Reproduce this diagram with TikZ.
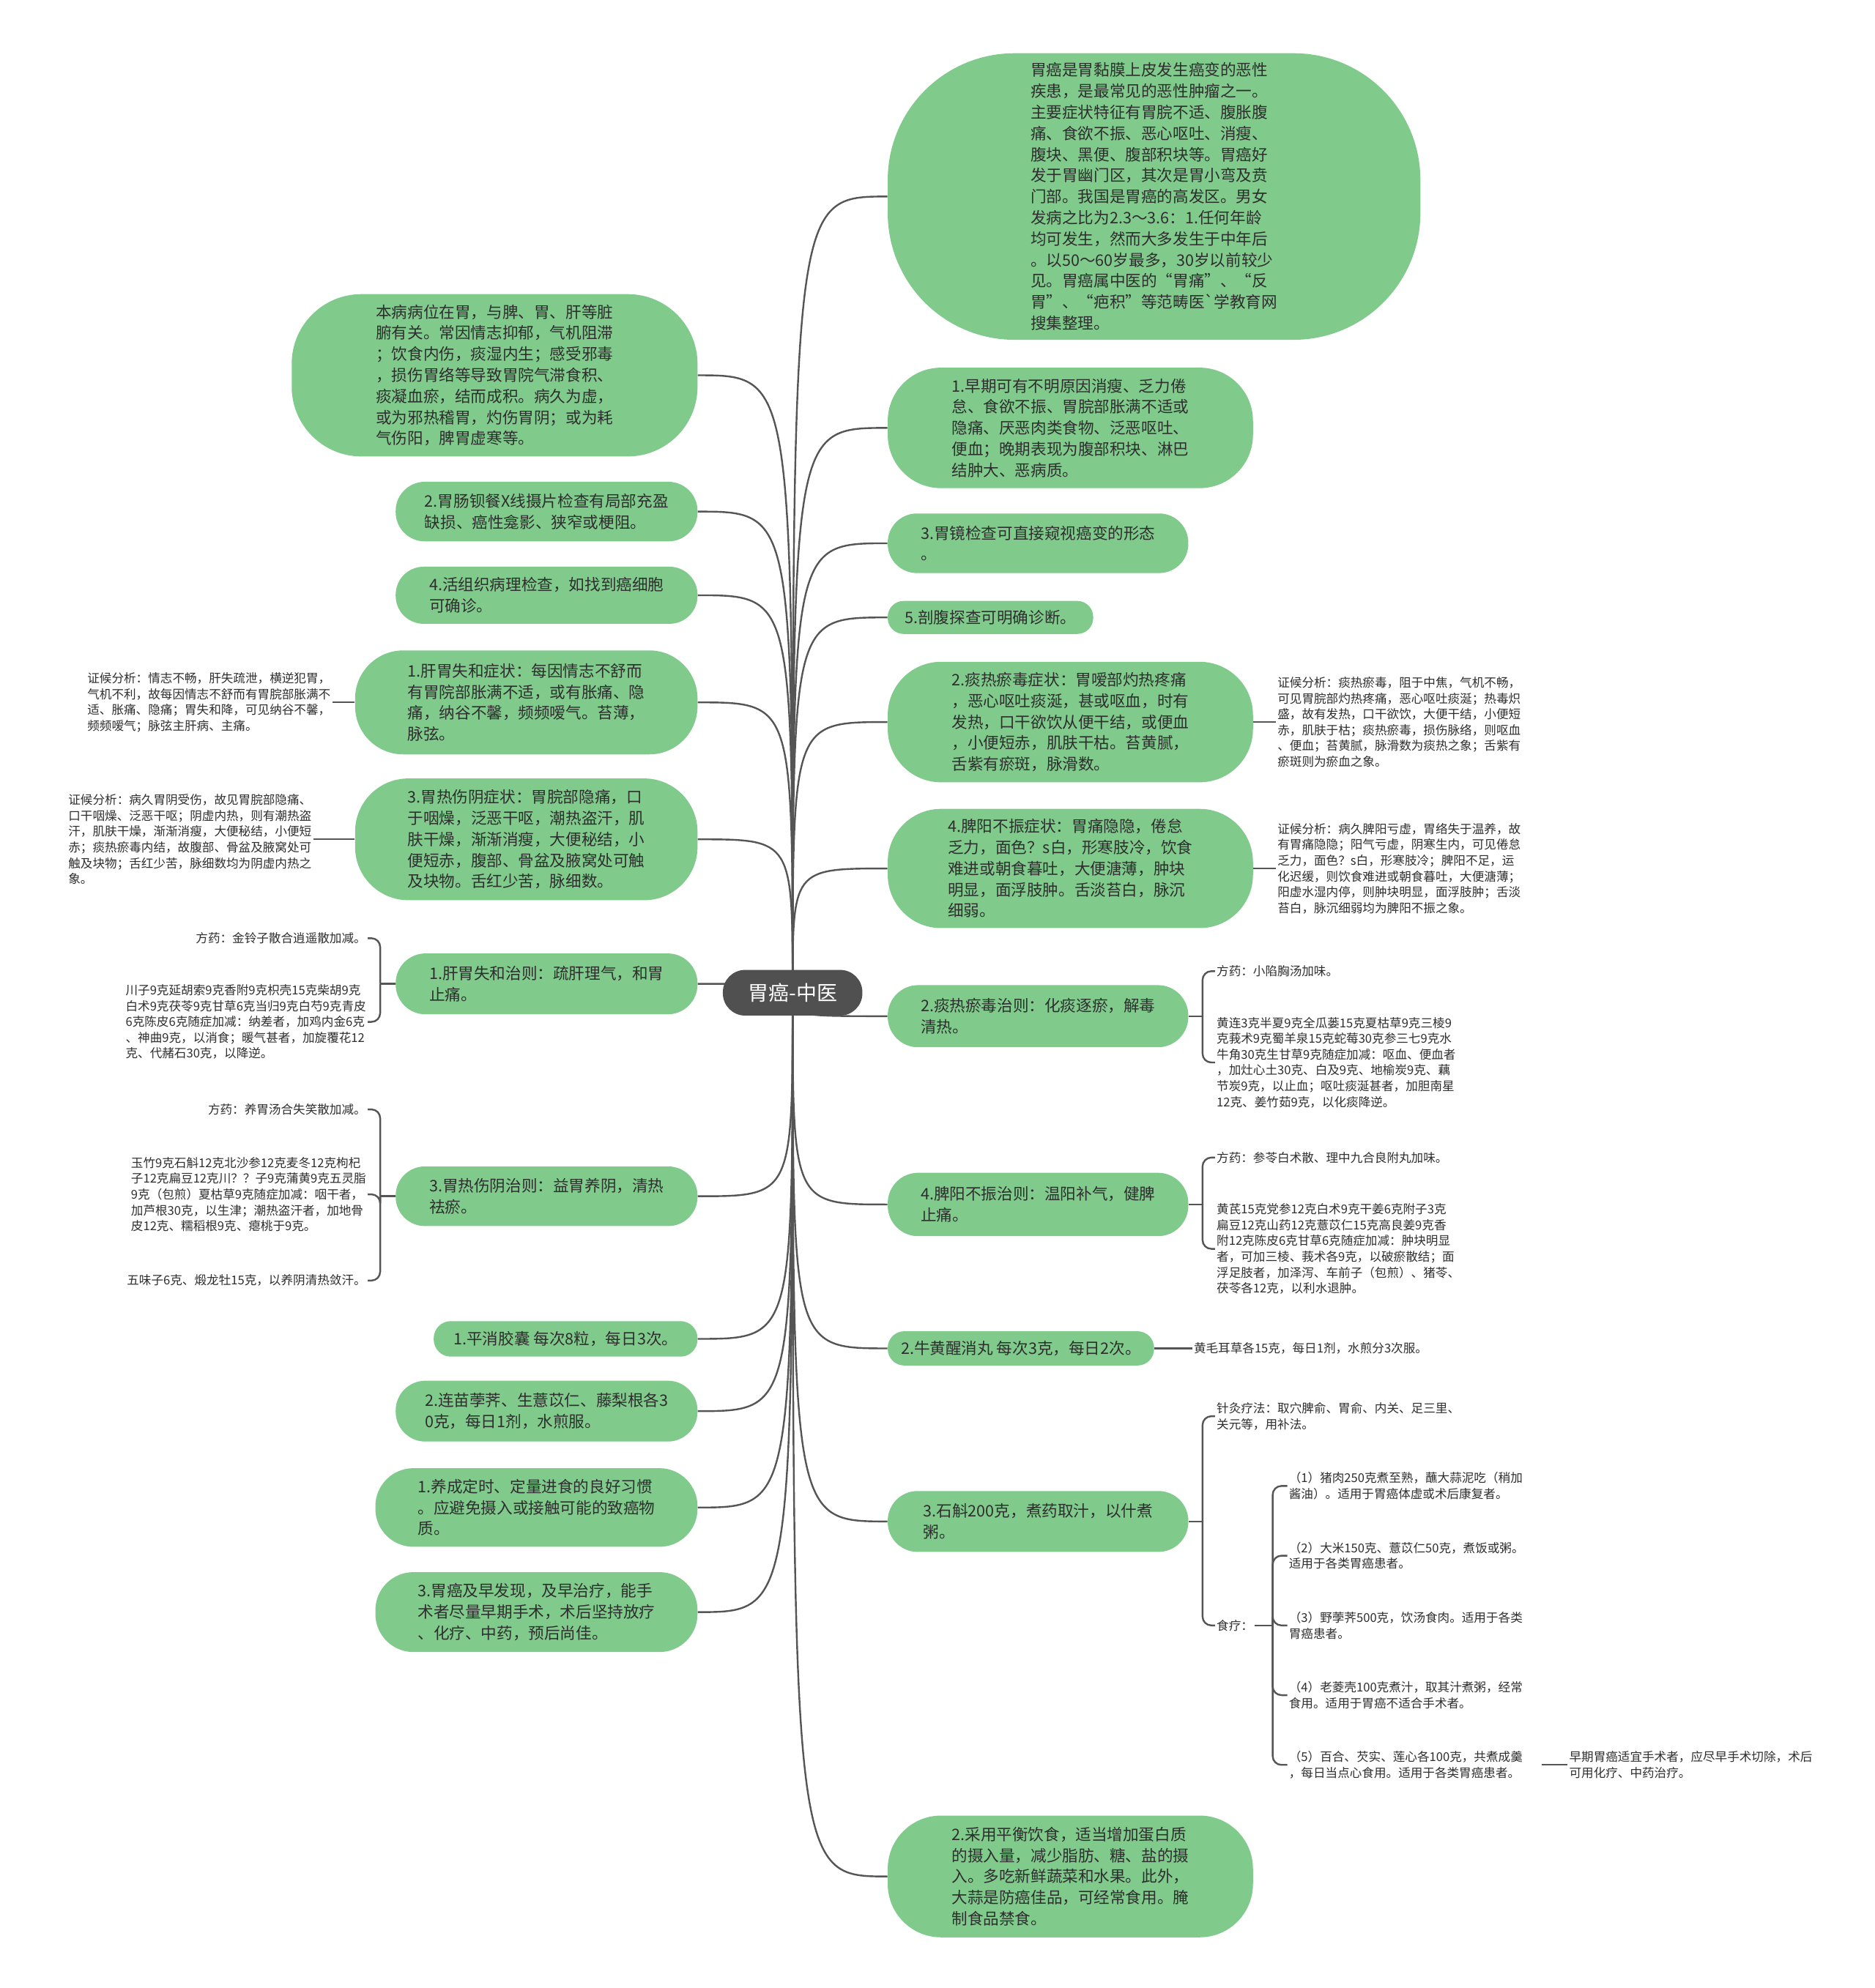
\documentclass[tikz,border=0pt]{standalone}
\usepackage{fontspec}
\setmainfont{Noto Sans CJK SC}
\usetikzlibrary{calc}
\definecolor{gfill}{HTML}{80CA8C}
\definecolor{linec}{HTML}{555555}
\definecolor{txtc}{HTML}{2E2E2E}
\definecolor{ctrc}{HTML}{505050}
\newcommand{\mfs}{\fontsize{10.8pt}{14.4pt}\selectfont}
\newcommand{\sfs}{\fontsize{8.3pt}{10.8pt}\selectfont}
\pgfdeclarelayer{bg}
\pgfsetlayers{bg,main}
\begin{document}
\begin{tikzpicture}[x=0.866pt,y=-0.866pt,
  conn/.style={draw=linec, line width=1.2pt},
  gn/.style n args={3}{fill=gfill, text=txtc, font=\mfs, align=left, inner sep=0pt,
     minimum width=#1*0.866pt, minimum height=#2*0.866pt, rounded corners=#3*0.866pt},
  ctr/.style={fill=ctrc, text=white, font=\fontsize{14pt}{16pt}\selectfont, inner sep=0pt,
     minimum width=110*0.866pt, minimum height=36*0.866pt, rounded corners=17.5*0.866pt},
  nt/.style={text=txtc, font=\sfs, align=left, inner sep=1pt},
  brc/.style={conn, rounded corners=6pt}]
\begin{pgfonlayer}{bg}
\fill[white] (0,0) rectangle (1478,1568);
\end{pgfonlayer}
\useasboundingbox (0,0) rectangle (1478,1568);

\node[ctr] (C) at (625,783) {胃癌-中医};

% right side
\node[gn={420}{226}{100}] (R1) at (910,155) {胃癌是胃黏膜上皮发生癌变的恶性\\疾患，是最常见的恶性肿瘤之一。\\主要症状特征有胃脘不适、腹胀腹\\痛、食欲不振、恶心呕吐、消瘦、\\腹块、黑便、腹部积块等。胃癌好\\发于胃幽门区，其次是胃小弯及贲\\门部。我国是胃癌的高发区。男女\\发病之比为2.3～3.6：1.任何年龄\\均可发生，然而大多发生于中年后\\。以50～60岁最多，30岁以前较少\\见。胃癌属中医的“胃痛”、“反\\胃”、“疤积”等范畴医\textasciigrave 学教育网\\搜集整理。};
\node[gn={288}{95}{42}] (R2) at (844,337.5) {1.早期可有不明原因消瘦、乏力倦\\怠、食欲不振、胃脘部胀满不适或\\隐痛、厌恶肉类食物、泛恶呕吐、\\便血；晚期表现为腹部积块、淋巴\\结肿大、恶病质。};
\node[gn={237}{47}{23}] (R3) at (818.5,428.5) {3.胃镜检查可直接窥视癌变的形态\\。};
\node[gn={162}{26}{12.5}] (R4) at (781,487) {5.剖腹探查可明确诊断。};
\node[gn={288}{95}{42}] (R5) at (844,569.5) {2.痰热瘀毒症状：胃嗳部灼热疼痛\\，恶心呕吐痰涎，甚或呕血，时有\\发热，口干欲饮从便干结，或便血\\，小便短赤，肌肤干枯。苔黄腻，\\舌紫有瘀斑，脉滑数。};
\node[gn={288}{94}{42}] (R6) at (844,685) {4.脾阳不振症状：胃痛隐隐，倦怠\\乏力，面色？s白，形寒肢冷，饮食\\难进或朝食暮吐，大便溏薄，肿块\\明显，面浮肢肿。舌淡苔白，脉沉\\细弱。};
\node[gn={237}{49}{24}] (R7) at (818.5,801.5) {2.痰热瘀毒治则：化痰逐瘀，解毒\\清热。};
\node[gn={237}{50}{24}] (R8) at (818.5,950) {4.脾阳不振治则：温阳补气，健脾\\止痛。};
\node[gn={210}{27}{13}] (R9) at (805,1063.5) {2.牛黄醒消丸 每次3克，每日2次。};
\node[gn={237}{48}{23.5}] (R10) at (818.5,1200) {3.石斛200克，煮药取汁，以什煮\\粥。};
\node[gn={288}{96}{42}] (R11) at (844,1480) {2.采用平衡饮食，适当增加蛋白质\\的摄入量，减少脂肪、糖、盐的摄\\入。多吃新鲜蔬菜和水果。此外，\\大蒜是防癌佳品，可经常食用。腌\\制食品禁食。};

% left side
\node[gn={320}{128}{55}] (L1) at (390,296) {本病病位在胃，与脾、胃、肝等脏\\腑有关。常因情志抑郁，气机阻滞\\；饮食内伤，痰湿内生；感受邪毒\\，损伤胃络等导致胃院气滞食积、\\痰凝血瘀，结而成积。病久为虚，\\或为邪热稽胃，灼伤胃阴；或为耗\\气伤阳，脾胃虚寒等。};
\node[gn={238}{47}{23}] (L2) at (431,403.5) {2.胃肠钡餐X线摄片检查有局部充盈\\缺损、癌性龛影、狭窄或梗阻。};
\node[gn={238}{45}{22}] (L3) at (431,469.5) {4.活组织病理检查，如找到癌细胞\\可确诊。};
\node[gn={270}{82}{38}] (L4) at (415,554) {1.肝胃失和症状：每因情志不舒而\\有胃院部胀满不适，或有胀痛、隐\\痛，纳谷不馨，频频嗳气。苔薄，\\脉弦。};
\node[gn={270}{96}{42}] (L5) at (415,662) {3.胃热伤阴症状：胃脘部隐痛，口\\于咽燥，泛恶干呕，潮热盗汗，肌\\肤干燥，渐渐消瘦，大便秘结，小\\便短赤，腹部、骨盆及腋窝处可触\\及块物。舌红少苦，脉细数。};
\node[gn={238}{48}{23.5}] (L6) at (431,776) {1.肝胃失和治则：疏肝理气，和胃\\止痛。};
\node[gn={238}{47}{23}] (L7) at (431,943.5) {3.胃热伤阴治则：益胃养阴，清热\\祛瘀。};
\node[gn={208}{28}{13.5}] (L8) at (446,1056) {1.平消胶囊 每次8粒，每日3次。};
\node[gn={238}{48}{23.5}] (L9) at (431,1113) {2.连苗荸荠、生薏苡仁、藤梨根各3\\0克，每日1剂，水煎服。};
\node[gn={254}{62}{30}] (L10) at (423,1189) {1.养成定时、定量进食的良好习惯\\。应避免摄入或接触可能的致癌物\\质。};
\node[gn={254}{63}{30}] (L11) at (423,1271.5) {3.胃癌及早发现，及早治疗，能手\\术者尽量早期手术，术后坚持放疗\\、化疗、中药，预后尚佳。};

% main connectors
\begin{pgfonlayer}{bg}
\foreach \nm in {R1,R2,R3,R4,R5,R6,R7,R8,R9,R10,R11}
  \draw[conn] (C.center) .. controls (C.center |- \nm.west) .. (\nm.west);
\foreach \nm in {L1,L2,L3,L4,L5,L6,L7,L8,L9,L10,L11}
  \draw[conn] (C.center) .. controls (C.center |- \nm.east) .. (\nm.east);
\end{pgfonlayer}

% annotations
\node[nt, anchor=east] (A4) at (262,554) {证候分析：情志不畅，肝失疏泄，横逆犯胃，\\气机不利，故每因情志不舒而有胃脘部胀满不\\适、胀痛、隐痛；胃失和降，可见纳谷不馨，\\频频嗳气；脉弦主肝病、主痛。};
\draw[conn] (L4.west) -- (A4.east);
\node[nt, anchor=east] (A5) at (247,662) {证候分析：病久胃阴受伤，故见胃脘部隐痛、\\口干咽燥、泛恶干呕；阴虚内热，则有潮热盗\\汗，肌肤干燥，渐渐消瘦，大便秘结，小便短\\赤；痰热瘀毒内结，故腹部、骨盆及腋窝处可\\触及块物；舌红少苦，脉细数均为阴虚内热之\\象。};
\draw[conn] (L5.west) -- (A5.east);
\node[nt, anchor=west] (B5) at (1006,569.5) {证候分析：痰热瘀毒，阻于中焦，气机不畅，\\可见胃脘部灼热疼痛，恶心呕吐痰涎；热毒炽\\盛，故有发热，口干欲饮，大便干结，小便短\\赤，肌肤于枯；痰热瘀毒，损伤脉络，则呕血\\、便血；苔黄腻，脉滑数为痰热之象；舌紫有\\瘀斑则为瘀血之象。};
\draw[conn] (R5.east) -- (B5.west);
\node[nt, anchor=west] (B6) at (1006,685) {证候分析：病久脾阳亏虚，胃络失于温养，故\\有胃痛隐隐；阳气亏虚，阴寒生内，可见倦怠\\乏力，面色？s白，形寒肢冷；脾阳不足，运\\化迟缓，则饮食难进或朝食暮吐，大便溏薄；\\阳虚水湿内停，则肿块明显，面浮肢肿；舌淡\\苔白，脉沉细弱均为脾阳不振之象。};
\draw[conn] (R6.east) -- (B6.west);

% R7 children
\node[nt, anchor=west] (R7a) at (958,766) {方药：小陷胸汤加味。};
\node[nt, anchor=west] (R7b) at (958,838) {黄连3克半夏9克全瓜蒌15克夏枯草9克三棱9\\克莪术9克蜀羊泉15克蛇莓30克参三七9克水\\牛角30克生甘草9克随症加减：呕血、便血者\\，加灶心土30克、白及9克、地榆炭9克、藕\\节炭9克，以止血；呕吐痰涎甚者，加胆南星\\12克、姜竹茹9克，以化痰降逆。};
\draw[conn] (R7.east) -- ++(11,0) coordinate (j7);
\draw[brc] (j7) |- (R7a.west);
\draw[brc] (j7) |- (R7b.west);

% R8 children
\node[nt, anchor=west] (R8a) at (958,913) {方药：参苓白术散、理中九合良附丸加味。};
\node[nt, anchor=west] (R8b) at (958,985) {黄芪15克党参12克白术9克干姜6克附子3克\\扁豆12克山药12克薏苡仁15克高良姜9克香\\附12克陈皮6克甘草6克随症加减：肿块明显\\者，可加三棱、莪术各9克，以破瘀散结；面\\浮足肢者，加泽泻、车前子（包煎）、猪苓、\\茯苓各12克，以利水退肿。};
\draw[conn] (R8.east) -- ++(11,0) coordinate (j8);
\draw[brc] (j8) |- (R8a.west);
\draw[brc] (j8) |- (R8b.west);

% R9 child
\node[nt, anchor=west] (R9a) at (940,1063.5) {黄毛耳草各15克，每日1剂，水煎分3次服。};
\draw[conn] (R9.east) -- (R9a.west);

% R10 children
\node[nt, anchor=west] (R10a) at (958,1117) {针灸疗法：取穴脾俞、胃俞、内关、足三里、\\关元等，用补法。};
\node[nt, anchor=west] (R10b) at (958,1282) {食疗：};
\draw[conn] (R10.east) -- ++(11,0) coordinate (j10);
\draw[brc] (j10) |- (R10a.west);
\draw[brc] (j10) |- (R10b.west);

\node[nt, anchor=west] (F1) at (1015,1172) {（1）猪肉250克煮至熟，蘸大蒜泥吃（稍加\\酱油）。适用于胃癌体虚或术后康复者。};
\node[nt, anchor=west] (F2) at (1015,1227) {（2）大米150克、薏苡仁50克，煮饭或粥。\\适用于各类胃癌患者。};
\node[nt, anchor=west] (F3) at (1015,1282) {（3）野荸荠500克，饮汤食肉。适用于各类\\胃癌患者。};
\node[nt, anchor=west] (F4) at (1015,1337) {（4）老菱壳100克煮汁，取其汁煮粥，经常\\食用。适用于胃癌不适合手术者。};
\node[nt, anchor=west] (F5) at (1015,1392) {（5）百合、芡实、莲心各100克，共煮成羹\\，每日当点心食用。适用于各类胃癌患者。};
\draw[conn] (R10b.east) -- ++(14,0) coordinate (jf);
\foreach \nm in {F1,F2,F3,F4,F5}
  \draw[brc] (jf) |- (\nm.west);
\node[nt, anchor=west] (F6) at (1236,1392) {早期胃癌适宜手术者，应尽早手术切除，术后\\可用化疗、中药治疗。};
\draw[conn] ([xshift=12pt]F5.east) -- (F6.west);

% L6 children
\node[nt, anchor=east] (L6a) at (290,740) {方药：金铃子散合逍遥散加减。};
\node[nt, anchor=east] (L6b) at (290,806) {川子9克延胡索9克香附9克枳壳15克柴胡9克\\白术9克茯苓9克甘草6克当归9克白芍9克青皮\\6克陈皮6克随症加减：纳差者，加鸡内金6克\\、神曲9克，以消食；暖气甚者，加旋覆花12\\克、代赭石30克，以降逆。};
\draw[conn] (L6.west) -- ++(-12,0) coordinate (jl6);
\draw[brc] (jl6) |- (L6a.east);
\draw[brc] (jl6) |- (L6b.east);

% L7 children
\node[nt, anchor=east] (L7a) at (290,875) {方药：养胃汤合失笑散加减。};
\node[nt, anchor=east] (L7b) at (290,942) {玉竹9克石斛12克北沙参12克麦冬12克枸杞\\子12克扁豆12克川？？子9克蒲黄9克五灵脂\\9克（包煎）夏枯草9克随症加减：咽干者，\\加芦根30克，以生津；潮热盗汗者，加地骨\\皮12克、糯稻根9克、瘪桃于9克。};
\node[nt, anchor=east] (L7c) at (290,1010) {五味子6克、煅龙牡15克，以养阴清热敛汗。};
\draw[conn] (L7.west) -- ++(-12,0) coordinate (jl7);
\draw[brc] (jl7) |- (L7a.east);
\draw[brc] (jl7) |- (L7b.east);
\draw[brc] (jl7) |- (L7c.east);
\end{tikzpicture}
\end{document}
